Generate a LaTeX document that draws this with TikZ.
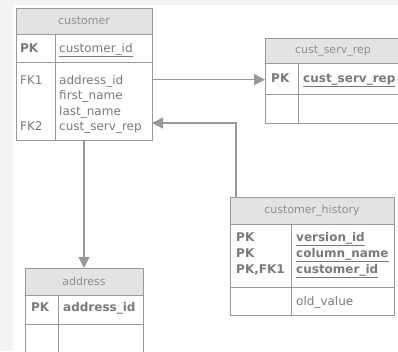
\documentclass[tikz,border=0pt]{standalone}
\usepackage{fontspec}
\setmainfont{DejaVu Sans}
\usepackage{tikz}
\usetikzlibrary{arrows.meta,positioning}
\definecolor{linegray}{HTML}{999999}
\definecolor{headgray}{HTML}{E3E3E3}
\definecolor{textgray}{HTML}{7A7A7A}
\definecolor{titlegray}{HTML}{8E8E8E}
\definecolor{bggray}{HTML}{F3F3F3}
\tikzset{
  section/.style={
    draw=linegray,
    line width=1pt,
    fill=white,
    inner sep=0pt,
    outer sep=0pt
  },
  tbl head/.style={
    section,
    anchor=north west,
    fill=headgray,
    text=titlegray,
    font=\fontsize{11}{13}\selectfont
  },
  field/.style={
    anchor=base west,
    inner sep=0pt,
    text=textgray,
    font=\fontsize{12}{15}\selectfont
  },
  pk field/.style={
    field,
    font=\fontsize{12}{15}\selectfont\bfseries
  },
  divider/.style={
    draw=linegray,
    line width=1pt
  },
  fk/.style={
    draw=linegray,
    line width=1.4pt,
    -{Triangle[length=11pt,width=11pt]}
  }
}

\begin{document}
\begin{tikzpicture}[x=1pt, y=-1pt]
 \useasboundingbox (0,0) rectangle (398,351);
 \fill[bggray] (0,0) rectangle (398,351);
 \fill[white] (13,5) rectangle (398,351);
 % customer
 \node[tbl head, minimum width=136pt, minimum height=26pt] (cust_head) at (16,8) {customer};
 \node[section, minimum width=136pt, minimum height=28pt, below=0pt of cust_head] (cust_pk) {};
 \node[section, minimum width=136pt, minimum height=78pt, below=0pt of cust_pk] (cust_body) {};
 \draw[divider] ([xshift=39pt]cust_pk.north west) -- ([xshift=39pt]cust_body.south west);
 \node[pk field] (cust_pk_key) at (20,52) {PK};
 \node[field] (cust_id) at (59,52) {\underline{customer\_id}};
 \node[field] (cust_fk1) at (20,84) {FK1};
 \node[field] (cust_addr) at (59,84) {address\_id};
 \node[field] (cust_first) at (59,99.5) {first\_name};
 \node[field] (cust_last) at (59,115) {last\_name};
 \node[field] (cust_fk2) at (20,130.5) {FK2};
 \node[field] (cust_rep) at (59,130.5) {cust\_serv\_rep};
 % cust_serv_rep
 \node[tbl head, minimum width=136pt, minimum height=25pt] (csr_head) at (265,38) {cust\_serv\_rep};
 \node[section, minimum width=136pt, minimum height=31pt, below=0pt of csr_head] (csr_pk) {};
 \node[section, minimum width=136pt, minimum height=29pt, below=0pt of csr_pk] (csr_body) {};
 \draw[divider] ([xshift=33pt]csr_pk.north west) -- ([xshift=33pt]csr_body.south west);
 \node[pk field] (csr_pk_key) at (271,82) {PK};
 \node[pk field] (csr_id) at (303,82) {\underline{cust\_serv\_rep}};
 % customer_history
 \node[tbl head, minimum width=164pt, minimum height=27pt] (hist_head) at (230,197) {customer\_history};
 \node[section, minimum width=164pt, minimum height=63pt, below=0pt of hist_head] (hist_pk) {};
 \node[section, minimum width=164pt, minimum height=28pt, below=0pt of hist_pk] (hist_body) {};
 \draw[divider] ([xshift=61pt]hist_pk.north west) -- ([xshift=61pt]hist_body.south west);
 \node[pk field] (hist_key1) at (236,241) {PK};
 \node[pk field] (hist_key2) at (236,257) {PK};
 \node[pk field] (hist_key3) at (236,273) {PK,FK1};
 \node[pk field] (hist_version) at (296,241) {\underline{version\_id}};
 \node[pk field] (hist_column) at (296,257) {\underline{column\_name}};
 \node[pk field] (hist_cust) at (296,273) {\underline{customer\_id}};
 \node[field] (hist_old) at (296,305) {old\_value};
 % address
 \node[tbl head, minimum width=118pt, minimum height=27pt] (addr_head) at (25,268) {address};
 \node[section, minimum width=118pt, minimum height=29pt, below=0pt of addr_head] (addr_pk) {};
 \node[section, minimum width=118pt, minimum height=40pt, below=0pt of addr_pk] (addr_body) {};
 \draw[divider] ([xshift=33pt]addr_pk.north west) -- ([xshift=33pt]addr_body.south west);
 \node[pk field] (addr_pk_key) at (31,311) {PK};
 \node[pk field] (addr_id) at (63,311) {address\_id};
 % relations
 \draw[fk] (cust_body.east |- cust_fk1) -- (csr_pk.west |- cust_fk1);
 \draw[fk] ([xshift=6pt]hist_head.north west) |- ([yshift=-22pt]cust_body.east);
 \draw[fk] (cust_body.south -| addr_head.north) -- (addr_head.north);
\end{tikzpicture}
\end{document}
